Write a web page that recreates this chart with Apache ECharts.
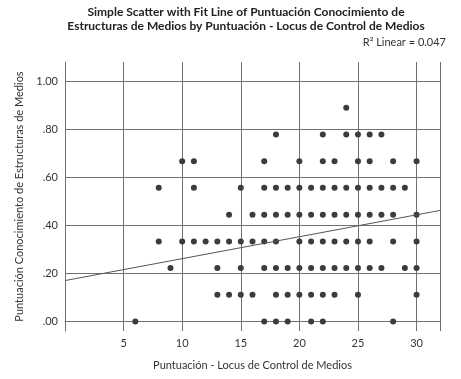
<!DOCTYPE html>
<html>
<head>
<meta charset="utf-8">
<script src="https://cdn.jsdelivr.net/npm/echarts@6/dist/echarts.min.js"></script>
<style>
    html, body { margin: 0; padding: 0; background: #fff; }
    #chart { width: 461px; height: 379px; }
</style>
</head>
<body>
<div id="chart"></div>
<script>
    // puntos por nivel de Y (valores X)
    const y000 = [6, 17, 18, 19, 21, 22, 28]
    const y111 = [13, 14, 15, 16, 18, 19, 20, 21, 22, 23, 25, 30]
    const y222 = [9, 13, 15, 17, 18, 19, 20, 21, 22, 23, 24, 25, 26, 27, 29, 30]
    const y333 = [8, 10, 11, 12, 13, 14, 15, 16, 17, 18, 20, 21, 22, 23, 24, 25, 26, 28, 30]
    const y444 = [14, 16, 17, 18, 19, 20, 21, 22, 23, 24, 25, 26, 27, 28, 30]
    const y556 = [8, 11, 15, 17, 18, 19, 20, 21, 22, 23, 24, 25, 26, 27, 28, 29]
    const y667 = [10, 11, 17, 20, 22, 23, 25, 26, 28, 30]
    const y778 = [18, 22, 24, 25, 26, 27]
    const y889 = [24]
    const yLevels = [0, 0.111, 0.222, 0.333, 0.444, 0.556, 0.667, 0.778, 0.889]

    // linea de ajuste (extremos leidos)
    const fitLine = [[0, 0.170], [32, 0.462]]

    const yTicks = [0, 0.2, 0.4, 0.6, 0.8, 1.0]
    const yTickLabels = ['.00', '.20', '.40', '.60', '.80', '1.00']

    const titleText = 'Simple Scatter with Fit Line of Puntuación Conocimiento de\nEstructuras de Medios by Puntuación - Locus de Control de Medios'
    const r2Text = 'R² Linear = 0.047'

    const rows = [y000, y111, y222, y333, y444, y556, y667, y778, y889]
    let points = []
    rows.forEach(function (xs, i) {
        xs.forEach(function (x) {
            points.push([x, yLevels[i]])
        })
    })

    const font = 'Lato, "Open Sans", sans-serif'
    const gridColor = '#707070'
    const textColor = '#333'

    const myChart = echarts.init(document.getElementById('chart'))
    let option = {
        animation: false,
        backgroundColor: '#fff',
        textStyle: { fontFamily: font },
        graphic: [
            {
                type: 'text',
                x: 246, y: 5,
                style: {
                    text: titleText,
                    align: 'center',
                    fontFamily: font,
                    fontWeight: 'bold',
                    fontSize: 12,
                    lineHeight: 14,
                    fill: '#222'
                }
            },
            {
                type: 'text',
                right: 15, top: 37,
                style: {
                    text: r2Text,
                    fontFamily: font,
                    fontSize: 11,
                    fill: textColor
                }
            }
        ],
        grid: {
            left: 65,
            top: 62,
            width: 375,
            height: 269
        },
        xAxis: {
            type: 'value',
            min: 0,
            max: 32,
            interval: 5,
            name: 'Puntuación - Locus de Control de Medios',
            nameLocation: 'middle',
            nameGap: 29,
            nameTextStyle: { color: textColor, fontSize: 11, fontFamily: font },
            axisLine: { show: true, lineStyle: { color: gridColor, width: 1 } },
            axisTick: { show: false },
            axisLabel: {
                color: textColor, fontSize: 11, fontFamily: font, margin: 7,
                showMinLabel: false, showMaxLabel: false
            },
            splitLine: { show: true, lineStyle: { color: gridColor, width: 1 } }
        },
        yAxis: {
            type: 'value',
            min: -0.04,
            max: 1.08,
            name: 'Puntuación Conocimiento de Estructuras de Medios',
            nameLocation: 'middle',
            nameGap: 38,
            nameTextStyle: { color: textColor, fontSize: 11, fontFamily: font },
            axisLine: { show: true, lineStyle: { color: gridColor, width: 1 } },
            axisTick: { show: false, customValues: yTicks },
            axisLabel: {
                color: textColor, fontSize: 11, fontFamily: font, margin: 7,
                customValues: yTicks,
                formatter: function (v) {
                    const i = yTicks.findIndex(t => Math.abs(t - v) < 1e-6)
                    return i >= 0 ? yTickLabels[i] : ''
                }
            },
            splitLine: { show: true, lineStyle: { color: gridColor, width: 1 } }
        },
        series: [
            {
                name: 'puntos',
                type: 'scatter',
                symbolSize: 6,
                itemStyle: { color: '#3c3c3c', opacity: 1 },
                data: points
            },
            {
                name: 'ajuste',
                type: 'line',
                symbol: 'none',
                lineStyle: { color: '#555', width: 1 },
                data: fitLine
            }
        ]
    }
    myChart.setOption(option)
</script>
</body>
</html>
